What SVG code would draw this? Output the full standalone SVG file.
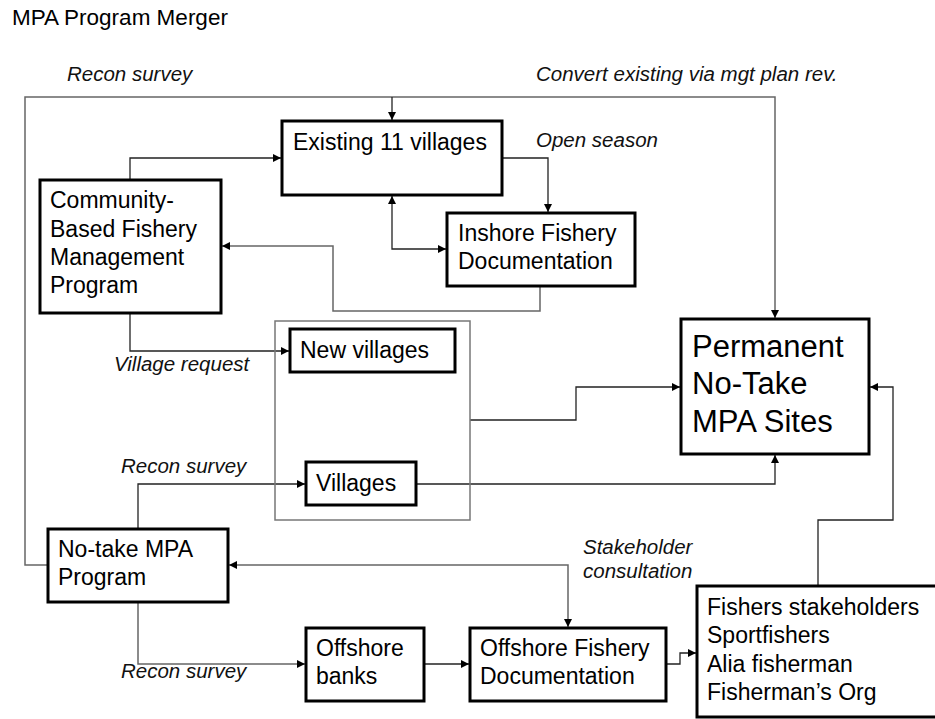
<svg xmlns="http://www.w3.org/2000/svg" width="935" height="719" viewBox="0 0 935 719">
<style>
.bg{fill:#fff}
.box{fill:#fff;stroke:#000;stroke-width:3}
.grp{fill:none;stroke:#777;stroke-width:1.5}
.t{font-family:"Liberation Sans",Arial,sans-serif;font-size:23px;fill:#000}
.big{font-size:31px}
.lbl{font-family:"Liberation Sans",Arial,sans-serif;font-size:20.5px;font-style:italic;fill:#111}
.c{fill:none;stroke:#222;stroke-width:1.3}
.g{fill:none;stroke:#666;stroke-width:1.5}
</style>
<defs>
<marker id="ah" viewBox="0 0 10 10" refX="10" refY="5" markerWidth="9" markerHeight="8" orient="auto-start-reverse" markerUnits="userSpaceOnUse">
<path d="M0,0 L10,5 L0,10 z" fill="#000"/>
</marker>
</defs>
<rect class="bg" x="0" y="0" width="935" height="719"/>
<text class="t" x="12" y="25" style="font-size:22.5px">MPA Program Merger</text>

<g id="labels">
<text class="lbl" x="67" y="81">Recon survey</text>
<text class="lbl" x="536" y="81">Convert existing via mgt plan rev.</text>
<text class="lbl" x="536" y="147">Open season</text>
<text class="lbl" x="114" y="371">Village request</text>
<text class="lbl" x="121" y="473">Recon survey</text>
<text class="lbl" x="583" y="554">Stakeholder</text>
<text class="lbl" x="583" y="578">consultation</text>
<text class="lbl" x="121" y="678">Recon survey</text>
</g>

<g id="connectors">
<path class="g" d="M48,565 H25 V97 H775 V318" marker-end="url(#ah)"/>
<path class="c" d="M392,97 V120" marker-end="url(#ah)"/>
<path class="c" d="M130,180 V158 H281" marker-end="url(#ah)"/>
<path class="c" d="M392,196 V249 H446" marker-start="url(#ah)" marker-end="url(#ah)"/>
<path class="c" d="M502,158 H548 V212" marker-end="url(#ah)"/>
<path class="g" d="M540,286 V311 H333 V246 H222" marker-end="url(#ah)"/>
<path class="c" d="M130,313 V351 H289" marker-end="url(#ah)"/>
<path class="c" d="M470,420 H576 V387 H680" marker-end="url(#ah)"/>
<path class="c" d="M138,529 V484 H305" marker-end="url(#ah)"/>
<path class="c" d="M416,484 H775 V455" marker-end="url(#ah)"/>
<path class="c" d="M818,586 V520 H893 V387 H870" marker-end="url(#ah)"/>
<path class="g" d="M229,565 H568 V627" marker-start="url(#ah)" marker-end="url(#ah)"/>
<path class="g" d="M138,602 V664 H305" marker-end="url(#ah)"/>
<path class="c" d="M424,664 H469" marker-end="url(#ah)"/>
<path class="c" d="M666,664 H680 V653 H696" marker-end="url(#ah)"/>
</g>

<g id="village-group">
<rect class="grp" x="275" y="321" width="195" height="199"/>
</g>

<g id="existing">
<rect class="box" x="282" y="121" width="220" height="74"/>
<text class="t" x="293" y="150">Existing 11 villages</text>
</g>
<g id="cbfmp">
<rect class="box" x="40" y="180" width="181" height="133"/>
<text class="t" x="50" y="208">Community-</text>
<text class="t" x="50" y="237">Based Fishery</text>
<text class="t" x="50" y="265">Management</text>
<text class="t" x="50" y="293">Program</text>
</g>
<g id="inshore">
<rect class="box" x="447" y="213" width="188" height="73"/>
<text class="t" x="458" y="241">Inshore Fishery</text>
<text class="t" x="458" y="269">Documentation</text>
</g>
<g id="new-villages">
<rect class="box" x="290" y="329" width="165" height="43"/>
<text class="t" x="300" y="358">New villages</text>
</g>
<g id="villages">
<rect class="box" x="306" y="462" width="110" height="43"/>
<text class="t" x="316" y="491">Villages</text>
</g>
<g id="permanent">
<rect class="box" x="681" y="319" width="188" height="135"/>
<text class="t big" x="692" y="357">Permanent</text>
<text class="t big" x="692" y="394">No-Take</text>
<text class="t big" x="692" y="432">MPA Sites</text>
</g>
<g id="notake">
<rect class="box" x="48" y="529" width="180" height="73"/>
<text class="t" x="58" y="557">No-take MPA</text>
<text class="t" x="58" y="585">Program</text>
</g>
<g id="offshore-banks">
<rect class="box" x="306" y="628" width="118" height="73"/>
<text class="t" x="316" y="656">Offshore</text>
<text class="t" x="316" y="684">banks</text>
</g>
<g id="offshore-doc">
<rect class="box" x="470" y="628" width="196" height="73"/>
<text class="t" x="480" y="656">Offshore Fishery</text>
<text class="t" x="480" y="684">Documentation</text>
</g>
<g id="fishers">
<rect class="box" x="697" y="586" width="245" height="131"/>
<text class="t" x="707" y="615">Fishers stakeholders</text>
<text class="t" x="707" y="643">Sportfishers</text>
<text class="t" x="707" y="672">Alia fisherman</text>
<text class="t" x="707" y="700">Fisherman’s Org</text>
</g>
</svg>
